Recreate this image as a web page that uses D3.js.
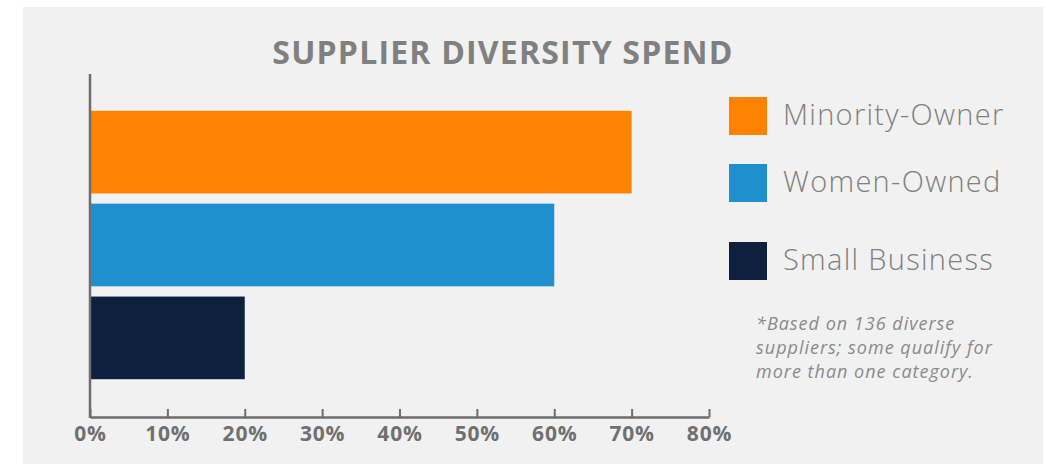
<!DOCTYPE html>
<html>
<head>
<meta charset="utf-8">
<script src="https://cdn.jsdelivr.net/npm/d3@7"></script>
<style>
  html, body { margin: 0; padding: 0; background: #ffffff; }
  svg { display: block; }
  text { font-family: "Open Sans", "DejaVu Sans", sans-serif; }
</style>
</head>
<body>
<svg id="chart" width="1046" height="465"></svg>
<script>
const categories = ["Minority-Owner", "Women-Owned", "Small Business"];
const values = [70, 60, 20];
const colors = ["#ff8300", "#1f8fd0", "#0d213e"];
const tickValues = [0, 10, 20, 30, 40, 50, 60, 70, 80];
const title = "SUPPLIER DIVERSITY SPEND";
const noteLines = ["*Based on 136 diverse", "suppliers; some qualify for", "more than one category."];

const svg = d3.select("#chart");
svg.append("rect").attr("x", 23).attr("y", 7).attr("width", 1020).attr("height", 457).attr("fill", "#f1f1f1");

const x = d3.scaleLinear().domain([0, 80]).range([90, 709]);
const y = d3.scaleBand().domain(categories).range([108, 382]).paddingInner(0.11).paddingOuter(0.03);

svg.append("text").attr("x", 503).attr("y", 64).attr("text-anchor", "middle")
  .attr("font-size", 32).attr("font-weight", 700).attr("letter-spacing", 1.2)
  .attr("fill", "#808080").text(title);

svg.selectAll("rect.bar").data(categories).join("rect").attr("class", "bar")
  .attr("x", x(0)).attr("y", d => y(d))
  .attr("width", (d, i) => x(values[i]) - x(0)).attr("height", y.bandwidth())
  .attr("fill", (d, i) => colors[i]);

const axisColor = "#6d6d6d";
const xAxis = d3.axisBottom(x).tickValues(tickValues).tickFormat(d => d + "%").tickSizeInner(-8).tickSizeOuter(0).tickPadding(9);
const gx = svg.append("g").attr("transform", "translate(0,417)").call(xAxis);
gx.select(".domain").attr("stroke", axisColor).attr("stroke-width", 2.5);
gx.selectAll(".tick line").attr("stroke", axisColor).attr("stroke-width", 2);
gx.selectAll(".tick text").attr("fill", "#707070").attr("font-size", 21).attr("font-weight", 700)
  .attr("letter-spacing", 0.8).attr("font-family", "'Open Sans', sans-serif");

svg.append("line").attr("x1", 90).attr("x2", 90).attr("y1", 74).attr("y2", 418)
  .attr("stroke", axisColor).attr("stroke-width", 2.5);

const legY = [97, 164, 242];
const lg = svg.selectAll("g.leg").data(categories).join("g").attr("class", "leg")
  .attr("transform", (d, i) => `translate(729,${legY[i]})`);
lg.append("rect").attr("width", 38).attr("height", 38).attr("fill", (d, i) => colors[i]);
lg.append("text").attr("x", 54).attr("y", 28).attr("font-size", 29).attr("font-weight", 300)
  .attr("letter-spacing", 1.3).attr("fill", "#808080").text(d => d);

svg.selectAll("text.note").data(noteLines).join("text").attr("class", "note")
  .attr("x", 756).attr("y", (d, i) => 330 + i * 24).attr("font-size", 18).attr("font-style", "italic")
  .attr("letter-spacing", 1).attr("fill", "#8a8a8a").text(d => d);
</script>
</body>
</html>
